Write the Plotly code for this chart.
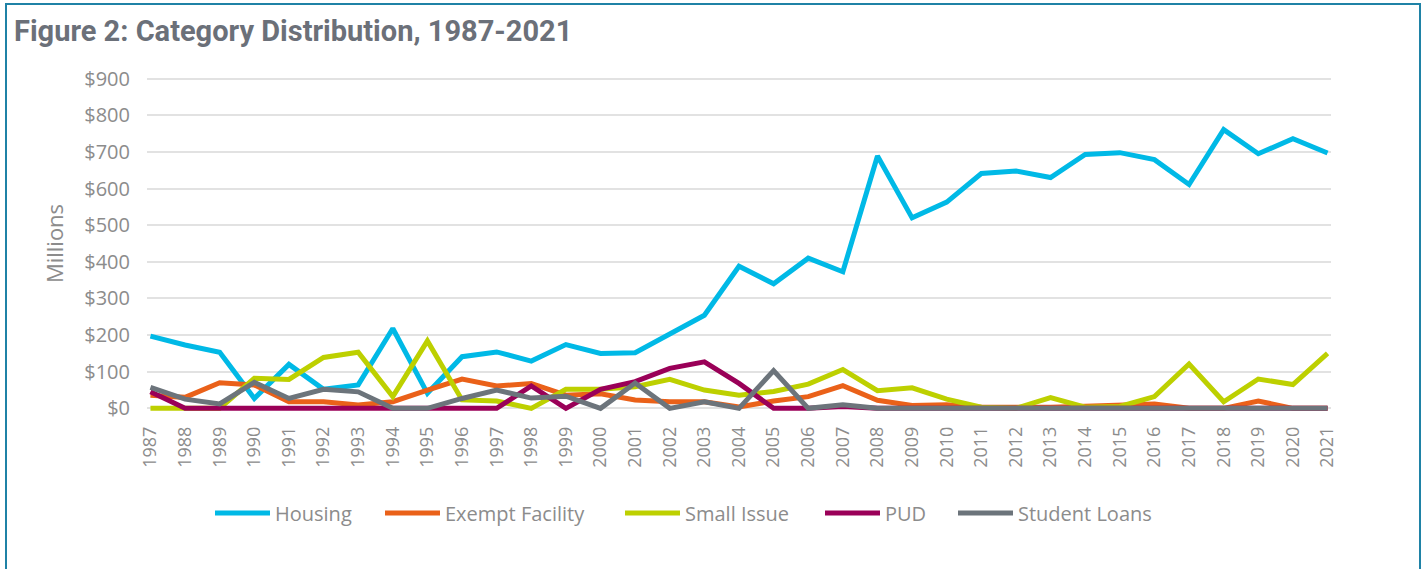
import plotly.graph_objects as go

years = list(range(1987, 2022))
housing = [197, 173, 153, 27, 120, 52, 64, 218, 41, 141, 154, 129, 174, 150, 152, 203, 254, 388, 340, 410,
           373, 689, 520, 563, 641, 648, 630, 693, 698, 679, 611, 761, 695, 736, 697]
exempt_facility = [36, 30, 70, 64, 18, 18, 9, 18, 50, 80, 61, 68, 36, 40, 23, 18, 18, 4, 20, 32,
                   62, 22, 8, 10, 3, 2, 3, 6, 8, 12, 0, 0, 20, 0, 0]
small_issue = [0, 0, 0, 82, 79, 139, 153, 32, 184, 23, 20, 0, 52, 52, 59, 79, 50, 36, 46, 66,
               106, 48, 56, 25, 3, 0, 29, 3, 5, 32, 121, 18, 80, 65, 150]
pud = [45, 0, 0, 0, 0, 0, 0, 0, 0, 0, 0, 61, 0, 52, 73, 109, 127, 68, 0, 0,
       5, 0, 0, 0, 0, 0, 0, 0, 0, 0, 0, 0, 0, 0, 0]
student_loans = [57, 25, 12, 71, 27, 52, 45, 0, 0, 27, 50, 28, 33, 0, 69, 0, 18, 0, 103, 0,
                 10, 0, 0, 0, 0, 0, 0, 0, 0, 0, 0, 0, 0, 0, 0]

series_names = ["Housing", "Exempt Facility", "Small Issue", "PUD", "Student Loans"]
series_values = [housing, exempt_facility, small_issue, pud, student_loans]
series_colors = ["#00B9E6", "#EA6119", "#BDD000", "#9A0058", "#6C747B"]

y_tick_values = [0, 100, 200, 300, 400, 500, 600, 700, 800, 900]
y_tick_labels = ["$0", "$100", "$200", "$300", "$400", "$500", "$600", "$700", "$800", "$900"]
x_tick_labels = [str(y) for y in years]

TICK_GRAY = "#8C8C8C"
FONT = "Open Sans"

L, R, T, B = 147, 94, 75, 157
W, H = 1425, 569
PW = W - L - R
PH = H - T - B


def px_x(px):
    return (px - L) / PW


def px_y(py):
    return (H - B - py) / PH


# left edge (px) of each legend entry's line sample
legend_starts = [215, 385, 625, 825, 958]
legend_ids = ["legend", "legend2", "legend3", "legend4", "legend5"]

fig = go.Figure()
for name, vals, col, lid in zip(series_names, series_values, series_colors, legend_ids):
    fig.add_trace(go.Scatter(x=years, y=vals, name=name, mode="lines",
                             line=dict(color=col, width=5), legend=lid))

legend_layout = {}
for lid, start in zip(legend_ids, legend_starts):
    legend_layout[lid] = dict(orientation="h", x=px_x(start - 5), xanchor="left",
                              y=px_y(513), yanchor="middle",
                              font=dict(family=FONT, size=20, color=TICK_GRAY), itemwidth=55,
                              bgcolor="rgba(0,0,0,0)")

fig.update_layout(
    width=W, height=H,
    margin=dict(l=L, r=R, t=T, b=B, autoexpand=False),
    paper_bgcolor="white", plot_bgcolor="white",
    title=dict(text="<b>Figure 2: Category Distribution, 1987-2021</b>",
               font=dict(family="Roboto", size=29, color="#6B7079"),
               xref="container", yref="container", x=14 / W, xanchor="left",
               y=1 - 31 / H, yanchor="middle"),
    xaxis=dict(range=[1986.9, 2021.1], tickmode="array", tickvals=years, ticktext=x_tick_labels,
               tickangle=-90, tickfont=dict(family=FONT, size=18, color=TICK_GRAY),
               showgrid=False, zeroline=False, showline=False, ticks="",
               ticklabelstandoff=10, automargin=False),
    yaxis=dict(range=[-10, 910], tickmode="array", tickvals=y_tick_values, ticktext=y_tick_labels,
               tickfont=dict(family=FONT, size=20, color=TICK_GRAY),
               showgrid=True, gridcolor="#E2E2E2", gridwidth=1.5, zeroline=False, showline=False,
               ticks="", ticklabelstandoff=16, automargin=False,
               title=dict(text="Millions", font=dict(family=FONT, size=22, color=TICK_GRAY), standoff=14)),
    showlegend=True,
    **legend_layout,
)

fig.add_shape(type="rect", xref="paper", yref="paper",
              x0=px_x(6), x1=px_x(1420), y0=px_y(640), y1=px_y(4),
              line=dict(color="#1F82A6", width=2), fillcolor="rgba(0,0,0,0)", layer="below")

fig.write_html("out.html", config={"displayModeBar": False},
               post_script="document.body.style.margin='0px';document.body.style.overflow='hidden';")
